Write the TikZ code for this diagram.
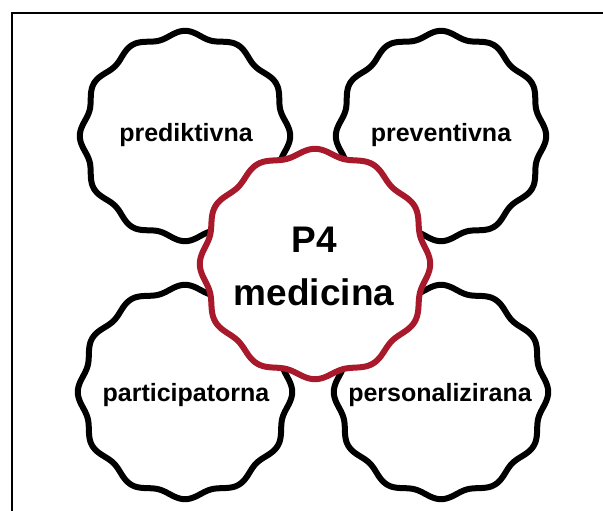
\documentclass[tikz,border=0pt]{standalone}
\usepackage{fontspec}
\setmainfont{Liberation Sans}
\definecolor{pred}{HTML}{A8192B}
\tikzset{
  wavy/.style={line width=6pt, fill=white, line join=round},
  lbl/.style={font=\fontsize{25}{28}\selectfont\bfseries, inner sep=0pt},
  big/.style={font=\fontsize{37}{52}\selectfont\bfseries, inner sep=0pt, align=center},
}
\newcommand{\scallop}[5]{% color, cx, cy, R, amp
  \draw[wavy, draw=#1] plot[domain=0:360, samples=241, smooth cycle]
    ({#2 + (#4 + #5*cos(12*\x))*cos(\x)}, {#3 + (#4 + #5*cos(12*\x))*sin(\x)});
}
\begin{document}
\begin{tikzpicture}[x=1pt, y=-1pt]
\useasboundingbox (0,0) rectangle (603,511);
\fill[white] (0,0) rectangle (603,511);
\coordinate (tl) at (12,13);
\coordinate (tr) at (603,13);
\coordinate (bl) at (12,511);
\draw[line width=2.5pt] (tr) -- (tl) -- (bl);
\scallop{black}{185}{136}{102}{3.2}
\scallop{black}{441}{136}{102}{3.2}
\scallop{black}{185}{392}{104}{3.2}
\scallop{black}{441}{392}{104}{3.2}
\scallop{pred}{315}{264}{112}{3.2}
\node[lbl] (a) at (186,135) {prediktivna};
\node[lbl] (b) at (441,135) {preventivna};
\node[lbl] (c) at (186,395) {participatorna};
\node[lbl] (d) at (440,395) {personalizirana};
\node[big] (p4) at (314,240) {P4};
\node[big] (med) at (314,292) {medicina};
\end{tikzpicture}
\end{document}
